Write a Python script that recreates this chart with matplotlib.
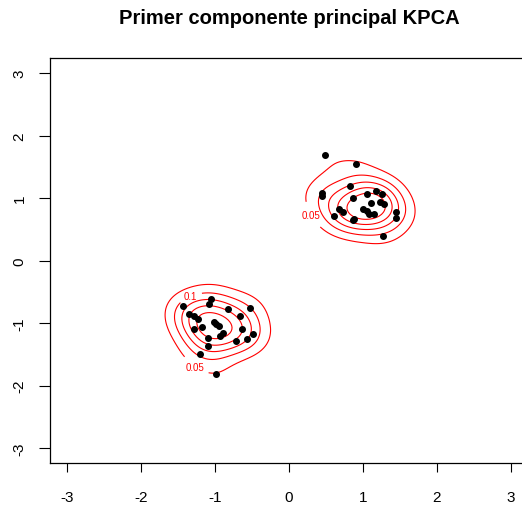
import matplotlib.pyplot as plt
import numpy as np

plt.rcParams['font.family'] = ['Liberation Sans', 'DejaVu Sans']
plt.rcParams['axes.unicode_minus'] = False

# scores on the first two kernel components
pc1 = [0.48, 0.91, 0.82, 0.44, 0.45, 1.05, 1.17, 1.26, 0.86, 1.11, 1.23, 1.29,
       0.67, 0.73, 0.61, 1.00, 1.06, 1.08, 1.15, 0.88, 0.86, 1.44, 1.44, 1.27,
       -1.06, -1.08, -1.43, -0.53, -0.83, -1.35, -1.29, -1.23, -0.66, -1.02,
       -0.98, -0.94, -1.17, -0.63, -1.29, -0.89, -0.93, -0.49, -1.09, -0.57,
       -0.72, -1.09, -1.20, -0.98]
pc2 = [1.69, 1.55, 1.19, 1.08, 1.04, 1.07, 1.12, 1.06, 1.00, 0.92, 0.94, 0.91,
       0.82, 0.78, 0.71, 0.83, 0.79, 0.75, 0.75, 0.67, 0.65, 0.78, 0.68, 0.40,
       -0.61, -0.69, -0.73, -0.76, -0.77, -0.86, -0.88, -0.94, -0.88, -0.99,
       -1.01, -1.04, -1.06, -1.09, -1.10, -1.16, -1.20, -1.18, -1.24, -1.25,
       -1.29, -1.37, -1.50, -1.81]
levels = [0.05, 0.1, 0.15, 0.2, 0.25]
# where each level gets its inline label
label_spots = {0.05: [(-1.15, -1.5), (0.3, 0.72)], 0.1: [(-1.25, -0.82)]}
bw = 0.24
n_ref = 96  # density is scaled to the full sample size

x = np.array(pc1)
y = np.array(pc2)

# 2d gaussian kernel density on a grid
gx = np.linspace(-3.3, 3.3, 220)
gy = np.linspace(-3.3, 3.3, 220)
GX, GY = np.meshgrid(gx, gy)
dens = np.zeros_like(GX)
for xi, yi in zip(x, y):
    dens += np.exp(-((GX - xi) ** 2 + (GY - yi) ** 2) / (2 * bw ** 2))
dens /= n_ref * 2 * np.pi * bw ** 2

fig = plt.figure(figsize=(5.22, 5.06), dpi=100)
ax = fig.add_axes([50 / 522, (506 - 464) / 506, 478 / 522, 405 / 506])

for lev in levels:
    cs = ax.contour(GX, GY, dens, levels=[lev], colors='red', linewidths=0.8)
    if lev in label_spots:
        txt = ax.clabel(cs, fontsize=7, fmt='%g', inline=True,
                        manual=label_spots[lev])
        for t in txt:
            t.set_rotation(0)
ax.scatter(x, y, s=16, color='black', zorder=3)

ax.set_xlim(-3.23, 3.23)
ax.set_ylim(-3.24, 3.24)
ax.set_xticks([-3, -2, -1, 0, 1, 2, 3])
ax.set_yticks([-3, -2, -1, 0, 1, 2, 3])
ax.tick_params(axis='x', length=6.5, width=0.8, labelsize=11, pad=13)
ax.tick_params(axis='y', length=8, width=0.8, labelsize=11, pad=9)
for lab in ax.get_yticklabels():
    lab.set_rotation(90)
    lab.set_va('center')
for s in ax.spines.values():
    s.set_linewidth(0.9)

fig.text(289 / 522, 1 - 18 / 506, 'Primer componente principal KPCA',
         ha='center', va='center', fontsize=14.5, fontweight='bold')

fig.savefig('out.png', dpi=100)
